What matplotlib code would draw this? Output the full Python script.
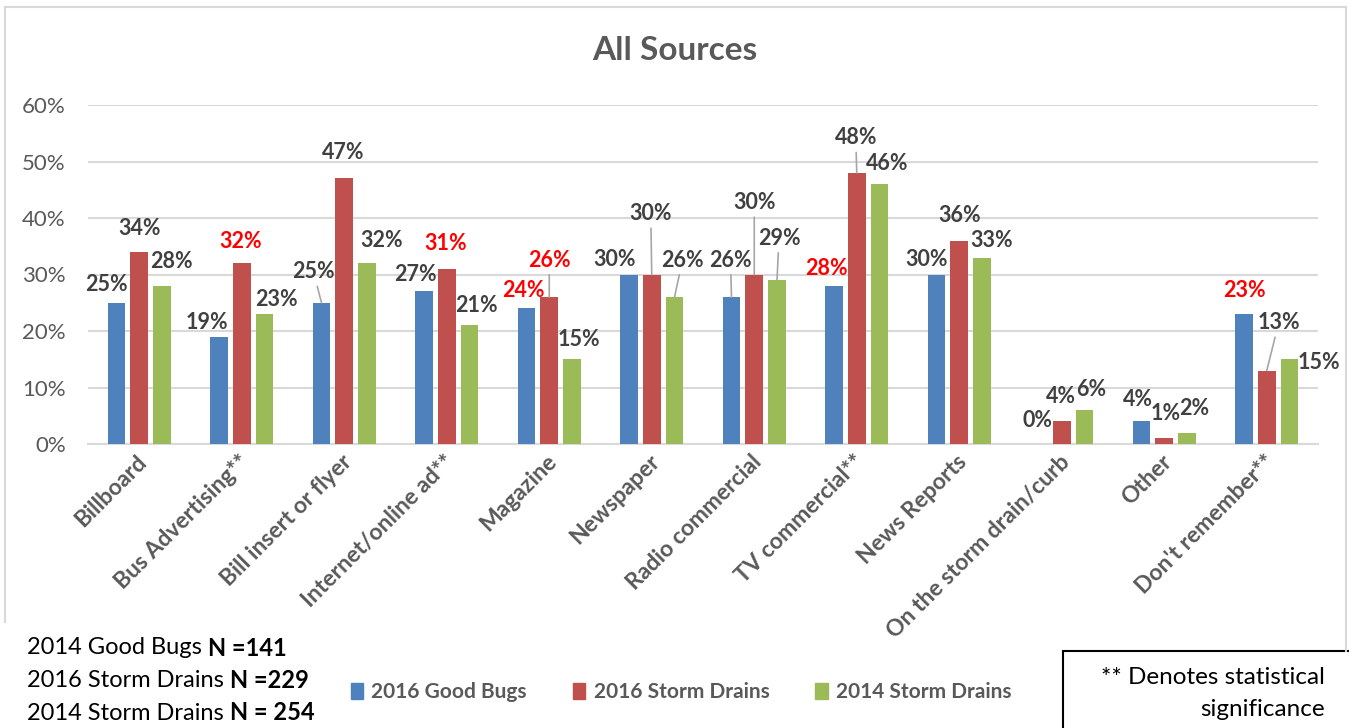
import numpy as np
import matplotlib
matplotlib.use("Agg")
import matplotlib.pyplot as plt
from matplotlib.patches import Rectangle, Patch
from matplotlib.lines import Line2D

plt.rcParams['font.family'] = ['Lato', 'DejaVu Sans']

categories = ['Billboard', 'Bus Advertising**', 'Bill insert or flyer',
              'Internet/online ad**', 'Magazine', 'Newspaper',
              'Radio commercial', 'TV commercial**', 'News Reports',
              'On the storm drain/curb', 'Other', "Don't remember**"]
series_names = ['2016 Good Bugs', '2016 Storm Drains', '2014 Storm Drains']
good_bugs_2016 = [25, 19, 25, 27, 24, 30, 26, 28, 30, 0, 4, 23]
storm_drains_2016 = [34, 32, 47, 31, 26, 30, 30, 48, 36, 4, 1, 13]
storm_drains_2014 = [28, 23, 32, 21, 15, 26, 29, 46, 33, 6, 2, 15]
# labels shown in red = statistically significant difference
significant = [
    [False, False, False, False, True, False, False, True, False, False, False, True],
    [False, True, False, True, True, False, False, False, False, False, False, False],
    [False] * 12,
]
sample_sizes = [('2014 Good Bugs ', 'N =141'),
                ('2016 Storm Drains ', 'N =229'),
                ('2014 Storm Drains ', 'N = 254')]

colors = ['#4f81bd', '#c0504d', '#9bbb59']
label_gray = '#404040'
axis_gray = '#595959'
grid_gray = '#d9d9d9'

# per-label offsets in pixels from bar top centre, and whether a leader line is drawn
offsets = [
    [(-10, 18, 0), (-12, 14, 0), (-8, 31, 1), (-9, 17, 0), (-3, 18, 0), (-14, 15, 0),
     (-1, 37, 1), (-8, 17, 0), (-10, 15, 0), (-1, 24, 0), (-4, 22, 0), (0, 24, 0)],
    [(0, 23, 0), (-1, 22, 0), (-1, 26, 0), (-1, 25, 0), (0, 37, 1), (-1, 61, 1),
     (0, 72, 1), (-1, 35, 1), (0, 25, 0), (-1, 25, 0), (1, 25, 0), (12, 48, 1)],
    [(9, 24, 0), (12, 15, 0), (15, 23, 0), (7, 20, 0), (7, 20, 0), (8, 37, 1),
     (2, 42, 1), (8, 21, 0), (10, 17, 0), (7, 21, 0), (7, 24, 0), (29, -3, 0)],
]

fig = plt.figure(figsize=(13.49, 7.28), dpi=100)
ax = fig.add_axes([88 / 1349, 1 - 444 / 728, 1230 / 1349, 339 / 728])

x = np.arange(len(categories))
width = 0.175
step = 0.222
all_values = [good_bugs_2016, storm_drains_2016, storm_drains_2014]
for i, values in enumerate(all_values):
    pos = x + (i - 1) * step
    ax.bar(pos, values, width, color=colors[i], zorder=3)
    for j, v in enumerate(values):
        dx, dy, leader = offsets[i][j]
        col = 'red' if significant[i][j] else label_gray
        props = None
        if leader:
            props = dict(arrowstyle='-', color='#a6a6a6', lw=1.2,
                         shrinkA=1, shrinkB=0)
        ax.annotate(f'{v}%', xy=(pos[j], v), xytext=(dx, dy),
                    textcoords='offset pixels', ha='center', va='center',
                    fontsize=15.5, fontweight='bold', color=col,
                    arrowprops=props, zorder=4)

ax.set_xlim(-0.5, len(categories) - 0.5)
ax.set_ylim(0, 60)
ax.set_yticks(range(0, 61, 10))
ax.set_yticklabels([f'{t}%' for t in range(0, 61, 10)])
ax.grid(axis='y', color=grid_gray, lw=1.5, zorder=0)
for s in ['top', 'right', 'left']:
    ax.spines[s].set_visible(False)
ax.spines['bottom'].set_color(grid_gray)
ax.spines['bottom'].set_linewidth(1.5)
ax.tick_params(axis='y', length=0, labelsize=16, labelcolor=axis_gray, pad=16)
ax.tick_params(axis='x', length=0, pad=5)
ax.set_xticks(x - 0.03)
ax.set_xticklabels(categories, rotation=45, ha='right', rotation_mode='anchor',
                   fontsize=16.5, fontweight='bold', color=axis_gray)

fig.text(675 / 1349, 1 - 50 / 728, 'All Sources', ha='center', va='center',
         fontsize=24, fontweight='bold', color=axis_gray)

# chart frame
fr = dict(color=grid_gray, lw=1.5, transform=fig.transFigure)
fig.add_artist(Line2D([5 / 1349, 5 / 1349], [1 - 622 / 728, 1 - 7 / 728], **fr))
fig.add_artist(Line2D([5 / 1349, 1346 / 1349], [1 - 7 / 728, 1 - 7 / 728], **fr))
fig.add_artist(Line2D([1346 / 1349, 1346 / 1349], [1 - 651 / 728, 1 - 7 / 728], **fr))

handles = [Patch(color=c) for c in colors]
leg = fig.legend(handles, series_names, loc='center', ncol=3,
                 bbox_to_anchor=(681 / 1349, 1 - 692 / 728), frameon=False,
                 handlelength=0.6, handleheight=0.8, handletextpad=0.4,
                 columnspacing=2.2,
                 prop=dict(size=15, weight='bold'))
for t in leg.get_texts():
    t.set_color(axis_gray)

for k, (plain, bold) in enumerate(sample_sizes):
    t = fig.text(27 / 1349, 1 - (648 + 32.5 * k) / 728, plain, ha='left',
                 va='center', fontsize=17, color='black')
    ax.annotate(bold, xy=(1, 0.5), xycoords=t, ha='left', va='center',
                fontsize=17, fontweight='bold', color='black',
                annotation_clip=False)

fig.add_artist(Rectangle((1063 / 1349, -0.02), 290 / 1349, 0.02 + 77 / 728,
                         transform=fig.transFigure, fill=True, facecolor='white',
                         edgecolor='black', lw=1.5))
fig.text(1325 / 1349, 1 - 678 / 728, '** Denotes statistical', ha='right',
         va='center', fontsize=17.5, color='black')
fig.text(1325 / 1349, 1 - 710 / 728, 'significance', ha='right',
         va='center', fontsize=17.5, color='black')

fig.savefig('out.png', dpi=100, facecolor='white')
